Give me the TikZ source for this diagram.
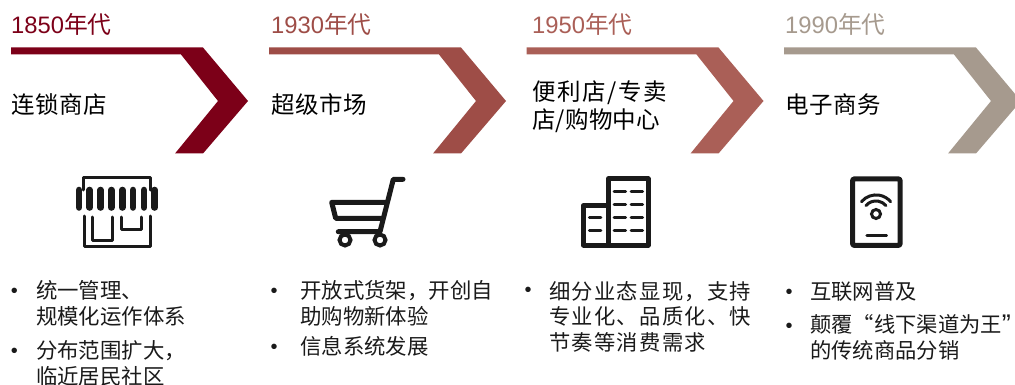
\documentclass[tikz,border=0pt]{standalone}
\usepackage{fontspec}
\setmainfont{Liberation Sans}
\newfontfamily\cjk{Noto Sans CJK SC}
\definecolor{cA}{HTML}{7C0018}
\definecolor{cB}{HTML}{9E4D47}
\definecolor{cC}{HTML}{AA5F57}
\definecolor{cD}{HTML}{A69A8E}
\definecolor{ink}{HTML}{1A1A1A}
\newcommand{\chev}[2]{%
  \fill[#1] (#2+11,47.5) -- (#2+203,47.5) -- (#2+248,101) -- (#2+203,153.5) -- (#2+175,153.5) -- (#2+218,101) -- (#2+181,54.5) -- (#2+11,54.5) -- cycle;}
\tikzset{
  year/.style={anchor=base west,inner sep=0pt,font=\fontsize{23.8}{26}\selectfont},
  head/.style={anchor=west,inner sep=0pt,align=left,text=black,font=\fontsize{23.5}{28}\selectfont\cjk\addfontfeature{LetterSpace=2}},
  item/.style={anchor=west,inner sep=0pt,align=left,text=ink,font=\fontsize{21.4}{26}\selectfont\cjk},
  itemb/.style={item,font=\fontsize{21.3}{26}\selectfont\cjk},
  itemwide/.style={item,font=\fontsize{21.3}{25.5}\selectfont\cjk\addfontfeature{LetterSpace=6}},
  dot/.style={anchor=center,inner sep=0pt,text=ink,font=\fontsize{20}{20}\selectfont},
  icon/.style={draw=ink,line width=5pt,line join=round,line cap=round},
  thin/.style={draw=ink,line width=2.7pt,line cap=round},
  storeline/.style={draw=ink,line width=3pt,line cap=round,line join=round},
  pill/.style={draw=ink,line width=6.6pt,line cap=round}
}
\begin{document}
\begin{tikzpicture}[x=1pt,y=-1pt]
\useasboundingbox (0,0) rectangle (1015,385);
\begin{scope}
\clip (0,0) rectangle (1015,385);
\chev{cA}{0}
\chev{cB}{258}
\chev{cC}{515.5}
\chev{cD}{773}
\end{scope}
% years
\node[year,text=cA] (y1) at (11,33.5) {1850{\cjk 年代}};
\node[year,text=cB] (y2) at (271,33.5) {1930{\cjk 年代}};
\node[year,text=cC] (y3) at (532,33.5) {1950{\cjk 年代}};
\node[year,text=cD] (y4) at (785,33.5) {1990{\cjk 年代}};
% headings
\node[head] (h1) at (11,104.5) {连锁商店};
\node[head] (h2) at (271,104.5) {超级市场};
\node[head] (h3) at (532,107) {{\addfontfeature{LetterSpace=6.5}便利店/专卖}\\{\addfontfeature{LetterSpace=1}店/购物中心}};
\node[head] (h4) at (785,105) {电子商务};
% store icon
\draw[storeline] (83,190) -- (83,177.5) -- (150,177.5) -- (150,190);
\foreach \px in {79,89.7,100.7,111.3,122.3,133,144,154.7}
  \draw[pill] (\px,190) -- (\px,207.5);
\draw[storeline] (84,216) -- (84,246.7) -- (150,246.7) -- (150,216);
\draw[storeline] (92.7,217) -- (92.7,240) -- (112.3,240) -- (112.3,217);
\draw[storeline] (121.7,217) -- (121.7,229.3) -- (141,229.3) -- (141,217);
% cart icon
\draw[icon] (403,179.3) -- (393.3,179.3) -- (380,231.7) -- (338.3,231.7);
\draw[icon] (386.7,202.3) -- (331.7,202.3) -- (335.7,218.3) -- (383,218.3);
\draw[draw=ink,line width=4pt] (345,240) circle[radius=5.5pt];
\draw[draw=ink,line width=4pt] (380,240) circle[radius=5.5pt];
% building icon
\draw[icon] (608.3,245) -- (608.3,179) -- (648.3,179) -- (648.3,245) -- (583.3,245) -- (583.3,205.7) -- (608.3,205.7);
\foreach \py in {191.3,204.3,217.3,230.7}{
  \draw[thin] (614,\py) -- (625.7,\py);
  \draw[thin] (631,\py) -- (642.7,\py);
}
\foreach \py in {217.3,230.7}
  \draw[thin] (589.3,\py) -- (601,\py);
% tablet icon
\draw[icon,rounded corners=1pt] (852.7,179) rectangle (900,245.3);
\draw[draw=ink,line width=3pt] (876,214) circle[radius=4.5pt];
\draw[draw=ink,line width=3pt,line cap=round] (866,205.6) arc[start angle=140,end angle=40,radius=13pt];
\draw[draw=ink,line width=3pt,line cap=round] (861.5,201.7) arc[start angle=140,end angle=40,radius=19pt];
\draw[draw=ink,line width=2.5pt,line cap=round] (866.7,235.7) -- (886.7,235.7);
% bullets
\node[dot] (d1) at (14.5,293) {•};
\node[dot] (d2) at (14.5,353) {•};
\node[dot] (d3) at (274,293) {•};
\node[dot] (d4) at (274,349) {•};
\node[dot] (d5) at (528,292) {•};
\node[dot] (d6) at (789,294) {•};
\node[dot] (d7) at (789,328) {•};
% item text
\node[item] (t1) at (36,303) {统一管理、\\规模化运作体系};
\node[item] (t2) at (36,363) {分布范围扩大，\\临近居民社区};
\node[item] (t3) at (300,303) {开放式货架，开创自\\助购物新体验};
\node[item] (t4) at (300,346.5) {信息系统发展};
\node[itemwide] (t5) at (549,316.5) {细分业态显现，支持\\专业化、品质化、快\\节奏等消费需求};
\node[itemb] (t6) at (810,291) {互联网普及};
\node[itemb] (t7) at (810,337) {颠覆“线下渠道为王{\rmfamily\fontsize{27}{26}\selectfont\raisebox{-1pt}{”}}\\的传统商品分销};
\end{tikzpicture}
\end{document}
